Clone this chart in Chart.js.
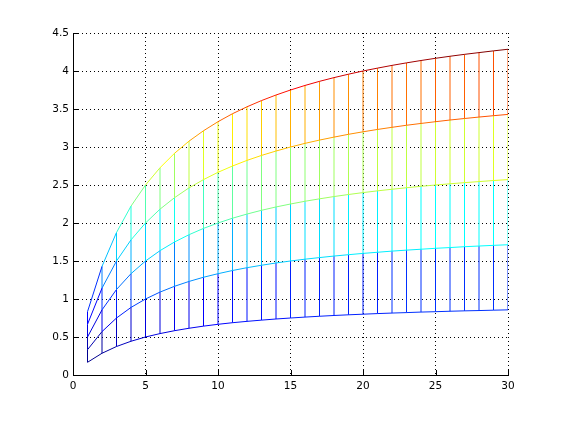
<!DOCTYPE html>
<html>
<head>
<meta charset="utf-8">
<script src="https://cdn.jsdelivr.net/npm/chart.js@4"></script>
<style>
  html, body { margin: 0; padding: 0; background: #fff; }
  #wrap { width: 561px; height: 421px; }
</style>
</head>
<body>
<div id="wrap"><canvas id="chart" width="561" height="421"></canvas></div>
<script>
// x positions and the five curves
const xs = [1,2,3,4,5,6,7,8,9,10,11,12,13,14,15,16,17,18,19,20,21,22,23,24,25,26,27,28,29,30];
const row1 = [0.167,0.286,0.375,0.444,0.5,0.545,0.583,0.615,0.643,0.667,0.688,0.706,0.722,0.737,0.75,0.762,0.773,0.783,0.792,0.8,0.808,0.815,0.821,0.828,0.833,0.839,0.844,0.848,0.853,0.857];
const row2 = [0.333,0.571,0.75,0.889,1.0,1.091,1.167,1.231,1.286,1.333,1.375,1.412,1.444,1.474,1.5,1.524,1.545,1.565,1.583,1.6,1.615,1.630,1.643,1.655,1.667,1.677,1.688,1.697,1.706,1.714];
const row3 = [0.5,0.857,1.125,1.333,1.5,1.636,1.75,1.846,1.929,2.0,2.063,2.118,2.167,2.211,2.25,2.286,2.318,2.348,2.375,2.4,2.423,2.444,2.464,2.483,2.5,2.516,2.531,2.545,2.559,2.571];
const row4 = [0.667,1.143,1.5,1.778,2.0,2.182,2.333,2.462,2.571,2.667,2.75,2.824,2.889,2.947,3.0,3.048,3.091,3.130,3.167,3.2,3.231,3.259,3.286,3.310,3.333,3.355,3.375,3.394,3.412,3.429];
const row5 = [0.833,1.429,1.875,2.222,2.5,2.727,2.917,3.077,3.214,3.333,3.438,3.529,3.611,3.684,3.75,3.810,3.864,3.913,3.958,4.0,4.038,4.074,4.107,4.138,4.167,4.194,4.219,4.242,4.265,4.286];
const rows = [row1, row2, row3, row4, row5];

const xTicks = [0,5,10,15,20,25,30];
const yTicks = [0,0.5,1,1.5,2,2.5,3,3.5,4,4.5];

// matlab jet(64), flat edge colour taken from the first vertex
const cmin = Math.min(...rows.flat());
const cmax = Math.max(...rows.flat());
function jet(v) {
  let i = Math.floor((v - cmin) / (cmax - cmin) * 64) + 1;
  i = Math.max(1, Math.min(64, i));
  const u = k => (k <= 16 ? k / 16 : k <= 31 ? 1 : (48 - k) / 16);
  const r = (i >= 25) ? u(i - 24) : 0;
  const g = (i >= 9 && i <= 55) ? u(i - 8) : 0;
  const b = (i <= 39) ? u(i + 8) : 0;
  return `rgb(${Math.round(r*255)},${Math.round(g*255)},${Math.round(b*255)})`;
}
const segColor = ctx => jet(ctx.p0.parsed.y);

// vertical edges, bottom to top, broken with nulls
const cols = [];
xs.forEach((x, j) => {
  rows.forEach(r => cols.push({ x: x, y: r[j] }));
  cols.push({ x: x, y: null });
});

const datasets = rows.map(r => ({
  data: xs.map((x, j) => ({ x: x, y: r[j] })),
  borderWidth: 1,
  pointRadius: 0,
  tension: 0,
  segment: { borderColor: segColor }
}));
datasets.push({
  data: cols,
  borderWidth: 1,
  pointRadius: 0,
  spanGaps: false,
  segment: { borderColor: segColor }
});

// small inward tick marks like matlab
const innerTicks = {
  id: 'innerTicks',
  afterDraw(chart) {
    const { ctx, chartArea: a, scales: { x, y } } = chart;
    ctx.save();
    ctx.strokeStyle = '#000';
    ctx.lineWidth = 1;
    ctx.beginPath();
    xTicks.forEach(t => {
      const px = Math.round(x.getPixelForValue(t)) + 0.5;
      ctx.moveTo(px, a.bottom); ctx.lineTo(px, a.bottom - 5);
    });
    yTicks.forEach(t => {
      const py = Math.round(y.getPixelForValue(t)) + 0.5;
      ctx.moveTo(a.left, py); ctx.lineTo(a.left + 5, py);
    });
    // solid left and bottom axis
    ctx.moveTo(Math.round(a.left) + 0.5, a.top);
    ctx.lineTo(Math.round(a.left) + 0.5, Math.round(a.bottom) + 0.5);
    ctx.lineTo(a.right, Math.round(a.bottom) + 0.5);
    ctx.stroke();
    ctx.restore();
  }
};

const font = { family: 'DejaVu Sans, sans-serif', size: 10.5 };

new Chart(document.getElementById('chart'), {
  type: 'line',
  data: { datasets: datasets },
  options: {
    responsive: false,
    animation: false,
    layout: { padding: { top: 33, right: 53, left: 0, bottom: 0 } },
    plugins: { legend: { display: false }, tooltip: { enabled: false } },
    scales: {
      x: {
        type: 'linear',
        min: 0, max: 30,
        afterBuildTicks: s => { s.ticks = xTicks.map(v => ({ value: v })); },
        afterFit: s => { s.height = 46; },
        ticks: { color: '#000', font: font, padding: 5, maxRotation: 0, callback: v => String(v) },
        grid: { color: '#000', lineWidth: 1, drawTicks: false },
        border: { display: true, color: '#000', width: 1, dash: [1, 3] }
      },
      y: {
        type: 'linear',
        min: 0, max: 4.5,
        afterBuildTicks: s => { s.ticks = yTicks.map(v => ({ value: v })); },
        afterFit: s => { s.width = 73; },
        ticks: { color: '#000', font: font, padding: 4, callback: v => String(v) },
        grid: { color: '#000', lineWidth: 1, drawTicks: false },
        border: { display: true, color: '#000', width: 1, dash: [1, 3] }
      }
    }
  },
  plugins: [innerTicks]
});
</script>
</body>
</html>
